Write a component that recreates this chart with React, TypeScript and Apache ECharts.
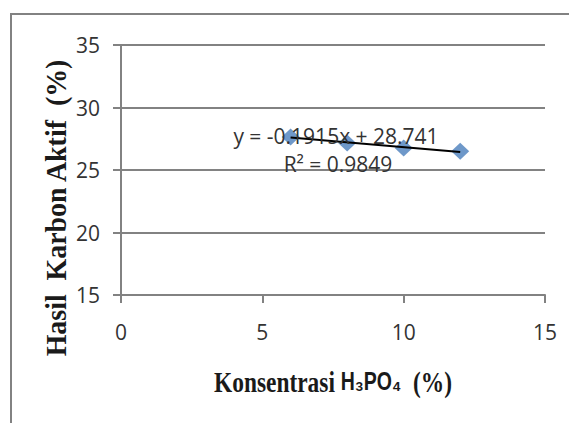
import React, { useEffect, useRef } from "react";
import * as echarts from "echarts";

const concentrations = [6, 8, 10, 12];
const yields = [27.64, 27.16, 26.77, 26.5];
const trendX = [6, 12];
const trendY = [27.592, 26.443];
const xTicks = [0, 5, 10, 15];
const yTicks = [15, 20, 25, 30, 35];
const equationText = "y = -0.1915x + 28.741";
const r2Text = "R² = 0.9849";

export default function App() {
  const ref = useRef<HTMLDivElement>(null);
  useEffect(() => {
    if (!ref.current) return;
    const chart = echarts.init(ref.current, null, { renderer: "svg" });
    const gray = "#828282";
    const labelColor = "#333333";
    chart.setOption({
      animation: false,
      backgroundColor: "#ffffff",
      grid: { left: 121, right: 24, top: 45, bottom: 128, containLabel: false },
      xAxis: {
        type: "value",
        min: xTicks[0],
        max: xTicks[xTicks.length - 1],
        interval: 5,
        axisLine: { show: true, onZero: false, lineStyle: { color: gray, width: 2 } },
        axisTick: { show: true, inside: false, length: 8, lineStyle: { color: gray, width: 2 } },
        splitLine: { show: false },
        axisLabel: { color: labelColor, fontFamily: "Open Sans", fontSize: 21, margin: 26 },
      },
      yAxis: {
        type: "value",
        min: yTicks[0],
        max: yTicks[yTicks.length - 1],
        interval: 5,
        axisLine: { show: true, onZero: false, lineStyle: { color: gray, width: 2 } },
        axisTick: { show: true, inside: false, length: 8, lineStyle: { color: gray, width: 2 } },
        splitLine: { show: true, lineStyle: { color: gray, width: 2 } },
        axisLabel: { color: labelColor, fontFamily: "Open Sans", fontSize: 21, margin: 21 },
      },
      series: [
        {
          type: "scatter",
          data: concentrations.map((x, i) => [x, yields[i]]),
          symbol: "diamond",
          symbolSize: [18, 17],
          itemStyle: { color: "#4a7ebb" },
          z: 2,
        },
        {
          type: "line",
          data: trendX.map((x, i) => [x, trendY[i]]),
          symbol: "none",
          lineStyle: { color: "#000000", width: 2 },
          z: 3,
        },
      ],
      graphic: [
        {
          type: "rect",
          shape: { x: 11, y: 14, width: 700, height: 600 },
          style: { fill: "none", stroke: gray, lineWidth: 2 },
          silent: true,
          z: 0,
        },
        {
          type: "text",
          x: 336,
          y: 136,
          style: {
            text: equationText,
            fill: labelColor,
            font: "21px 'Open Sans'",
            align: "center",
            verticalAlign: "middle",
          },
          z: 10,
        },
        {
          type: "text",
          x: 338,
          y: 164,
          style: {
            text: r2Text,
            fill: labelColor,
            font: "21px 'Open Sans'",
            align: "center",
            verticalAlign: "middle",
          },
          z: 10,
        },
        {
          type: "text",
          x: 333,
          y: 382,
          scaleX: 0.78,
          style: {
            text: "{b|Konsentrasi }{s|H₃PO₄}{b|  (%)}",
            align: "center",
            verticalAlign: "middle",
            rich: {
              b: { fontFamily: "Liberation Serif", fontWeight: "bold", fontSize: 30, fill: "#1a1a1a" },
              s: { fontFamily: "Liberation Sans, DejaVu Sans", fontWeight: "bold", fontSize: 25, fill: "#1a1a1a" },
            },
          },
          z: 10,
        },
        {
          type: "text",
          x: 56,
          y: 208,
          rotation: Math.PI / 2,
          scaleX: 0.93,
          style: {
            text: "Hasil  Karbon Aktif  (%)",
            fill: "#1a1a1a",
            font: "bold 30px 'Liberation Serif'",
            align: "center",
            verticalAlign: "middle",
          },
          z: 10,
        },
      ],
    });
    return () => chart.dispose();
  }, []);
  return (
    <div
      ref={ref}
      style={{ position: "fixed", left: 0, top: 0, width: 569, height: 423 }}
    />
  );
}
